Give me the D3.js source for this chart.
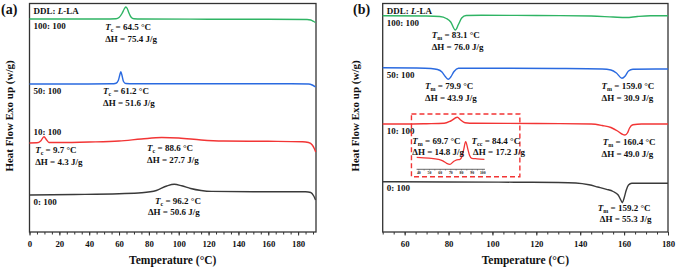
<!DOCTYPE html>
<html>
<head>
<meta charset="utf-8">
<script src="https://cdn.jsdelivr.net/npm/d3@7"></script>
<style>
  body { margin: 0; background: #fff; }
  text { font-family: "Liberation Serif", "Times New Roman", serif; font-weight: bold; fill: #111; }
</style>
</head>
<body>
<svg width="677" height="269"></svg>
<script>
// ---- data: [temperature °C, heat flow (arbitrary, exo up, stacked)] ----
// (a) cooling scans
const coolTrace100 = [[0,21.3],[20,21.3],[50,21.3],[58,21.32],[60,21.45],[62,21.85],[63.5,22.3],[64.5,22.5],[65.5,22.35],[66.5,21.95],[68,21.5],[70,21.32],[75,21.3],[120,21.28],[160,21.27],[186,21.25],[188.5,21.2],[190.5,21.05],[191.7,20.95]];
const coolTrace50 = [[0,14.8],[30,14.8],[55,14.82],[58,14.88],[59.5,15.15],[60.5,15.7],[61.2,16.03],[62,15.65],[63,15.05],[64.5,14.85],[70,14.82],[120,14.82],[170,14.82],[187,14.8],[189.5,14.7],[191.7,14.5]];
const coolTrace10 = [[0,8.9],[5,8.92],[7.5,9.1],[9.7,9.53],[11.5,9.2],[13,8.95],[20,8.95],[40,9.0],[60,9.1],[75,9.3],[88.6,9.45],[100,9.4],[115,9.2],[130,9.1],[160,9.07],[183,9.03],[187,8.95],[189.5,8.7],[191,8.3],[191.8,8.0]];
const coolTrace0 = [[0,3.7],[30,3.75],[60,3.83],[75,3.92],[85,4.15],[92,4.6],[97,4.77],[102,4.62],[108,4.35],[115,4.15],[122,4.06],[150,4.03],[185,4.03],[188.5,3.95],[190.5,3.6],[191.7,3.2]];
// (b) heating scans
const heatTrace100 = [[50,21.62],[70,21.6],[76,21.55],[79,21.35],[81,21.0],[83.1,20.2],[84.5,20.75],[86,21.4],[88,21.65],[95,21.67],[120,21.65],[145,21.6],[155,21.5],[161,21.45],[166,21.55],[172,21.62],[180,21.62]];
const heatTrace50 = [[50,16.43],[65,16.4],[72,16.35],[75,16.25],[77,16.0],[78.5,15.55],[79.9,15.27],[81,15.5],[82.5,16.05],[84.5,16.37],[95,16.38],[130,16.35],[150,16.3],[154,16.2],[156.5,15.9],[159,15.37],[160.5,15.6],[162,16.1],[164,16.27],[180,16.3]];
const heatTrace10 = [[50,10.8],[60,10.8],[70,10.83],[78,10.87],[81,11.1],[84,11.47],[85.5,11.2],[87.5,10.93],[92,10.87],[120,10.85],[145,10.8],[150,10.65],[154,10.45],[157,10.1],[159,9.8],[160.4,9.7],[161.5,9.9],[162.5,10.4],[164,10.72],[168,10.8],[180,10.8]];
const heatTrace0 = [[50,5.03],[80,5.0],[110,4.98],[130,4.95],[138,4.9],[144,4.72],[148,4.5],[152,4.27],[155,4.05],[157.3,3.7],[158.5,3.2],[159.2,2.93],[160,3.4],[161,4.2],[162,4.7],[163.5,4.87],[170,4.88],[180,4.88]];
// (b) inset: zoom of the 10:100 heating scan
const insetTrace = [[38.5,1.2],[50,1.12],[58.8,1.0],[63,0.85],[66.6,0.6],[69.7,0.5],[72.8,0.76],[76,0.95],[79.1,1.0],[81,1.3],[82.5,1.95],[84.4,2.76],[86.5,2.0],[88,1.4],[90.1,1.1],[95,1.05],[102,1.0]];

const ratioLabels = ["100: 100", "50: 100", "10: 100", "0: 100"];
const tickLabelsA = [0, 20, 40, 60, 80, 100, 120, 140, 160, 180];
const tickLabelsB = [60, 80, 100, 120, 140, 160, 180];
const tickLabelsInset = [40, 50, 60, 70, 80, 90, 100];
const colors = ["#2fb464", "#2a6ae0", "#f23535", "#3a3a3a"];

const svg = d3.select("svg");
const yS = d3.scaleLinear().domain([0, 22.85]).range([232, 3.5]);
const xA = d3.scaleLinear().domain([0, 192]).range([29.5, 316]);
const xB = d3.scaleLinear().domain([50, 180]).range([382.7, 668]);

function drawPanel(x, ticks, tag, tagX, ytitleX) {
  const [r0, r1] = x.range();
  const [d0, d1] = x.domain();
  const minor = d3.range(Math.ceil(d0 / 5) * 5, d1 + 0.01, 5);

  svg.append("g").attr("transform", "translate(0,232)")
    .call(d3.axisBottom(x).tickValues(minor).tickSize(2.5).tickFormat(""))
    .call(g => g.select(".domain").remove())
    .selectAll("line").attr("stroke", "#333");
  const ax = svg.append("g").attr("transform", "translate(0,232)")
    .call(d3.axisBottom(x).tickValues(ticks).tickSize(3.5).tickPadding(5))
    .call(g => g.select(".domain").remove());
  ax.selectAll("line").attr("stroke", "#333");
  ax.selectAll("text").attr("font-size", 8.8).attr("font-family", null).attr("fill", "#111");

  svg.append("rect")
    .attr("x", r0).attr("y", yS.range()[1])
    .attr("width", r1 - r0).attr("height", yS.range()[0] - yS.range()[1])
    .attr("fill", "none").attr("stroke", "#333").attr("stroke-width", 1.3);

  svg.append("text").attr("x", (r0 + r1) / 2).attr("y", 264)
    .attr("text-anchor", "middle").attr("font-size", 11.5).text("Temperature (°C)");
  svg.append("text")
    .attr("transform", `translate(${ytitleX},116) rotate(-90)`)
    .attr("text-anchor", "middle").attr("font-size", 11).text("Heat Flow Exo up (w/g)");
  svg.append("text").attr("x", tagX).attr("y", 14).attr("font-size", 14).text(tag);

  const head = svg.append("text").attr("x", r0 + 4).attr("y", 13.5).attr("font-size", 9);
  head.append("tspan").text("DDL: ");
  head.append("tspan").attr("font-style", "italic").text("L");
  head.append("tspan").text("-LA");
}

function drawTraces(x, traces) {
  const line = d3.line().x(d => x(d[0])).y(d => yS(d[1])).curve(d3.curveMonotoneX);
  svg.append("g").selectAll("path").data(traces).join("path")
    .attr("d", line).attr("fill", "none")
    .attr("stroke", (d, i) => colors[i]).attr("stroke-width", 1.4);
}

// label with italic symbol + subscript, e.g. Tc = 64.5 °C
function symLabel(x, t, v, sub, rest) {
  const el = svg.append("text").attr("x", x(t)).attr("y", yS(v)).attr("font-size", 9);
  el.append("tspan").attr("font-style", "italic").text("T");
  el.append("tspan").attr("font-size", 6).attr("dy", 2).text(sub);
  el.append("tspan").attr("dy", -2).text(" = " + rest);
}
function plainLabel(x, t, v, s) {
  svg.append("text").attr("x", x(t)).attr("y", yS(v)).attr("font-size", 9).text(s);
}

drawPanel(xA, tickLabelsA, "(a)", 1, 13);
drawPanel(xB, tickLabelsB, "(b)", 353, 359);
drawTraces(xA, [coolTrace100, coolTrace50, coolTrace10, coolTrace0]);
drawTraces(xB, [heatTrace100, heatTrace50, heatTrace10, heatTrace0]);

const ratioY = [[20.3, 13.8, 9.7, 2.7], [20.6, 15.4, 9.8, 4.07]];
[xA, xB].forEach((x, p) => ratioLabels.forEach((s, i) =>
  svg.append("text").attr("x", x.range()[0] + 4).attr("y", yS(ratioY[p][i]))
    .attr("font-size", 9).text(s)));

// (a) annotations
symLabel(xA, 50.7, 20.2, "c", "64.5 °C");   plainLabel(xA, 50.7, 19.0, "ΔH = 75.4 J/g");
symLabel(xA, 49.3, 13.8, "c", "61.2 °C");   plainLabel(xA, 49.3, 12.6, "ΔH = 51.6 J/g");
symLabel(xA, 3.8, 7.9, "c", "9.7 °C");      plainLabel(xA, 3.8, 6.7, "ΔH = 4.3 J/g");
symLabel(xA, 78.8, 8.1, "c", "88.6 °C");    plainLabel(xA, 78.8, 6.9, "ΔH = 27.7 J/g");
symLabel(xA, 84.1, 2.8, "c", "96.2 °C");    plainLabel(xA, 79.4, 1.7, "ΔH = 50.6 J/g");

// (b) annotations
symLabel(xB, 72.3, 19.4, "m", "83.1 °C");   plainLabel(xB, 72.3, 18.2, "ΔH = 76.0 J/g");
symLabel(xB, 69.3, 14.3, "m", "79.9 °C");   plainLabel(xB, 69.3, 13.1, "ΔH = 43.9 J/g");
symLabel(xB, 149.7, 14.3, "m", "159.0 °C"); plainLabel(xB, 149.7, 13.1, "ΔH = 30.9 J/g");
symLabel(xB, 150.3, 8.73, "m", "160.4 °C"); plainLabel(xB, 149.7, 7.5, "ΔH = 49.0 J/g");
symLabel(xB, 148, 2.07, "m", "159.2 °C");   plainLabel(xB, 148.9, 0.97, "ΔH = 55.3 J/g");

// (b) dashed zoom box + inset
svg.append("rect")
  .attr("x", xB(63.1)).attr("y", yS(11.8))
  .attr("width", xB(112.5) - xB(63.1)).attr("height", yS(5.53) - yS(11.8))
  .attr("fill", "none").attr("stroke", "#f23535").attr("stroke-width", 1.4)
  .attr("stroke-dasharray", "5,3");

const xI = d3.scaleLinear().domain([40, 100]).range([418.3, 482.3]);
const yI = d3.scaleLinear().domain([0, 3]).range([169.3, 139.3]);
svg.append("path").datum(insetTrace)
  .attr("d", d3.line().x(d => xI(d[0])).y(d => yI(d[1])).curve(d3.curveMonotoneX))
  .attr("fill", "none").attr("stroke", "#f23535").attr("stroke-width", 1.3);
const axI = svg.append("g").attr("transform", `translate(0,${yI(0)})`)
  .call(d3.axisBottom(xI).tickValues(d3.range(40, 101, 5)).tickSize(1.2).tickPadding(0.8)
    .tickFormat(d => tickLabelsInset.includes(d) ? d : ""));
axI.select(".domain").attr("d", `M${xI(38.4)},0H${xI(102.5)}`).attr("stroke", "#444").attr("stroke-width", 0.8);
axI.selectAll("line").attr("stroke", "#444").attr("stroke-width", 0.5);
axI.selectAll("text").attr("font-size", 3.8).attr("font-family", null).attr("font-weight", "normal").attr("fill", "#444");

symLabel(xB, 63.5, 8.8, "m", "69.7 °C");    plainLabel(xB, 63.5, 7.7, "ΔH = 14.8 J/g");
symLabel(xB, 90.5, 8.8, "cc", "84.4 °C");   plainLabel(xB, 91.2, 7.7, "ΔH = 17.2 J/g");
</script>
</body>
</html>
